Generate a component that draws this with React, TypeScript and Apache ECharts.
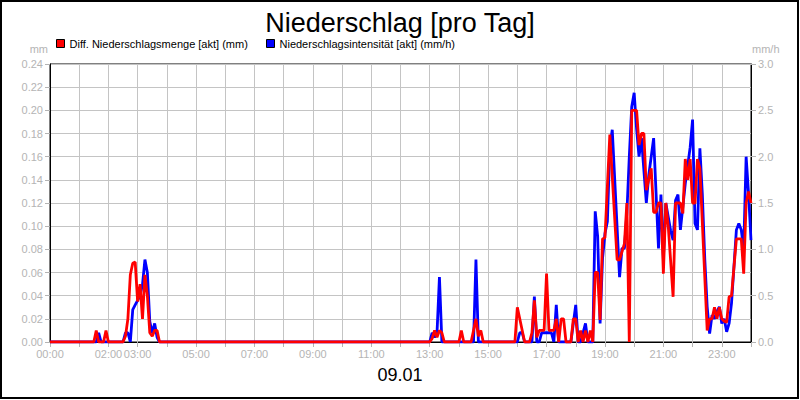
import React, { useEffect, useRef } from "react";
import * as echarts from "echarts";

const chartTitle = "Niederschlag [pro Tag]";
const dateLabel = "09.01";
const redName = "Diff. Niederschlagsmenge [akt] (mm)";
const blueName = "Niederschlagsintensität [akt] (mm/h)";
const leftUnit = "mm";
const rightUnit = "mm/h";

const xTickLabels = ["00:00", "02:00", "03:00", "05:00", "07:00", "09:00", "11:00", "13:00", "15:00", "17:00", "19:00", "21:00", "23:00"];

// Diff. Niederschlagsmenge (mm)
const redTimes = [
  "00:00", "01:30", "01:35", "01:40", "01:50", "01:55", "02:00",
  "02:30", "02:35", "02:40", "02:45", "02:50", "02:55", "03:00", "03:05", "03:10", "03:15", "03:20", "03:25", "03:30", "03:35", "03:40", "03:45",
  "13:00", "13:05", "13:10", "13:15", "13:20", "13:25", "13:30",
  "14:00", "14:05", "14:10",
  "14:25", "14:30", "14:35", "14:40", "14:45", "14:50",
  "15:55", "16:00", "16:15",
  "16:25", "16:30", "16:35", "16:40", "16:45", "16:50", "16:55", "17:00", "17:05", "17:10", "17:15", "17:20", "17:25", "17:30", "17:35", "17:40",
  "17:50", "17:55", "18:00", "18:05", "18:10", "18:15", "18:20", "18:25", "18:30", "18:35",
  "18:40", "18:45", "18:50", "18:55", "19:00", "19:10", "19:25", "19:30", "19:40", "19:45", "19:50", "19:55", "20:05",
  "20:10", "20:15", "20:20", "20:25", "20:35", "20:40", "20:45", "20:50", "20:55", "21:00", "21:05", "21:10", "21:20", "21:25", "21:30", "21:35", "21:40",
  "21:45", "21:50", "21:55", "22:00", "22:05", "22:10", "22:15",
  "22:30", "22:35", "22:40", "22:45", "22:50", "22:55", "23:00", "23:05", "23:10", "23:15", "23:20", "23:30", "23:40", "23:45", "23:50", "23:55", "24:00",
];
const redValues = [
  0, 0, 0.01, 0, 0, 0.01, 0,
  0, 0.005, 0.02, 0.058, 0.068, 0.069, 0.035, 0.05, 0.02, 0.058, 0.04, 0.008, 0.005, 0.01, 0.01, 0,
  0, 0.003, 0.01, 0.004, 0.01, 0.008, 0,
  0, 0.01, 0,
  0, 0.01, 0.02, 0.005, 0.01, 0,
  0, 0.03, 0,
  0, 0.008, 0.036, 0.004, 0.01, 0.01, 0.01, 0.059, 0.01, 0.01, 0.01, 0.02, 0, 0.02, 0.02, 0,
  0, 0.02, 0.02, 0, 0.01, 0, 0.01, 0, 0.01, 0,
  0.06, 0.06, 0.019, 0.089, 0.09, 0.179, 0.071, 0.071, 0.085, 0.12, 0, 0.2, 0.2,
  0.17, 0.18, 0.18, 0.131, 0.15, 0.112, 0.112, 0.12, 0.12, 0.059, 0.12, 0.1, 0.039, 0.12, 0.12, 0.12, 0.111,
  0.158, 0.14, 0.158, 0.12, 0.12, 0.158, 0.15,
  0.01, 0.02, 0.02, 0.03, 0.02, 0.03, 0.02, 0.018, 0.017, 0.039, 0.04, 0.089, 0.089, 0.059, 0.12, 0.13, 0.12,
];

// Niederschlagsintensität (mm/h)
const blueTimes = [
  "00:00", "01:35", "01:40", "01:45",
  "02:30", "02:35", "02:40", "02:45", "02:50", "02:55", "03:00", "03:05", "03:10", "03:15", "03:20", "03:25", "03:30", "03:35", "03:40", "03:45",
  "13:00", "13:05", "13:10", "13:15", "13:20", "13:25",
  "14:30", "14:35", "14:40",
  "16:00", "16:05", "16:10", "16:15",
  "16:30", "16:35", "16:40", "16:45", "16:50", "16:55", "17:00", "17:05", "17:10", "17:15", "17:20", "17:25",
  "17:50", "17:55", "18:00", "18:05", "18:10", "18:15", "18:20", "18:25", "18:35",
  "18:40", "18:45", "18:50", "18:55", "19:00", "19:05", "19:10", "19:15", "19:30", "19:35", "19:40", "19:45", "19:50", "19:55", "20:00", "20:05",
  "20:10", "20:15", "20:25", "20:30", "20:40", "20:50", "20:55", "21:00", "21:05", "21:15", "21:20", "21:25", "21:30", "21:35", "21:45", "21:55", "22:00",
  "22:05", "22:10", "22:15", "22:20", "22:25", "22:30", "22:35", "22:40", "22:45", "22:50", "22:55", "23:00", "23:05", "23:10", "23:15", "23:20",
  "23:30", "23:35", "23:40", "23:45", "23:50", "23:55", "24:00",
];
const blueValues = [
  0, 0, 0.1, 0,
  0, 0.1, 0.1, 0, 0.35, 0.4, 0.45, 0.5, 0.62, 0.89, 0.75, 0.22, 0.1, 0.2, 0.05, 0,
  0, 0.1, 0.05, 0.1, 0.7, 0,
  0, 0.89, 0,
  0, 0.1, 0.1, 0,
  0, 0.49, 0, 0, 0.1, 0.1, 0.1, 0.1, 0.1, 0, 0.4, 0,
  0, 0.2, 0.4, 0, 0, 0.1, 0.2, 0, 0,
  1.41, 1.14, 0.2, 0.9, 1.17, 1.3, 2.1, 2.29, 0.7, 1.01, 1.01, 1.39, 2.0, 2.54, 2.69, 2.3,
  2.0, 2.2, 1.5, 1.8, 2.2, 1.01, 1.59, 0.9, 1.5, 1.2, 1.1, 1.53, 1.59, 1.21, 1.71, 2.1, 2.4,
  1.28, 1.21, 2.09, 1.6, 0.9, 0.38, 0.09, 0.29, 0.25, 0.33, 0.38, 0.2, 0.25, 0.11, 0.2, 0.42,
  1.21, 1.28, 1.21, 1.0, 2.0, 1.6, 1.1,
];

const toMin = (t: string) => {
  const [h, m] = t.split(":").map(Number);
  return h * 60 + m;
};
const pad = (n: number) => (n < 10 ? "0" + n : "" + n);

const FONT = "'Liberation Sans', Arial, sans-serif";
const GRAY = "#b4b4b4";
const GRID = "#c4c4c4";

export default function App() {
  const ref = useRef<HTMLDivElement>(null);
  useEffect(() => {
    document.body.style.margin = "0";
    const chart = echarts.init(ref.current!, undefined, { renderer: "svg" });
    chart.setOption({
      animation: false,
      backgroundColor: "#fff",
      textStyle: { fontFamily: FONT },
      title: {
        text: chartTitle,
        left: "center",
        top: 4,
        textStyle: { fontSize: 27, fontWeight: "normal", color: "#000", fontFamily: FONT },
      },
      legend: [
        {
          data: [redName], left: 56, top: 38, padding: 0, icon: "rect", itemWidth: 8, itemHeight: 8,
          itemStyle: { borderColor: "#000", borderWidth: 1 },
          textStyle: { fontSize: 11, color: "#000", fontFamily: FONT },
        },
        {
          data: [blueName], left: 266, top: 38, padding: 0, icon: "rect", itemWidth: 8, itemHeight: 8,
          itemStyle: { borderColor: "#000", borderWidth: 1 },
          textStyle: { fontSize: 11, color: "#000", fontFamily: FONT },
        },
      ],
      grid: { left: 50, right: 49, top: 64, bottom: 58, show: true, borderColor: "#000", borderWidth: 1, backgroundColor: "transparent" },
      xAxis: {
        type: "value", min: 0, max: 1440, interval: 60,
        axisLine: { lineStyle: { color: "#000", width: 1 } },
        axisTick: { show: true, length: 5, lineStyle: { color: GRAY } },
        splitLine: { show: true, lineStyle: { color: GRID, width: 1 } },
        axisLabel: {
          color: GRAY, fontSize: 11, fontFamily: FONT, margin: 6,
          formatter: (v: number) => {
            const lab = pad(Math.round(v / 60)) + ":00";
            return xTickLabels.includes(lab) ? lab : "";
          },
        },
      },
      yAxis: [
        {
          type: "value", min: 0, max: 0.24, interval: 0.02, position: "left",
          axisLine: { show: true, lineStyle: { color: "#000", width: 1 } },
          axisTick: { show: true, length: 5, lineStyle: { color: GRAY } },
          splitLine: { show: true, lineStyle: { color: GRID, width: 1 } },
          axisLabel: { color: GRAY, fontSize: 11, fontFamily: FONT, margin: 7, formatter: (v: number) => v.toFixed(2) },
        },
        {
          type: "value", min: 0, max: 3, interval: 0.5, position: "right",
          axisLine: { show: true, lineStyle: { color: "#000", width: 1 } },
          axisTick: { show: true, length: 5, lineStyle: { color: GRAY } },
          splitLine: { show: false },
          axisLabel: { color: GRAY, fontSize: 11, fontFamily: FONT, margin: 7, formatter: (v: number) => v.toFixed(1) },
        },
      ],
      series: [
        {
          name: blueName, type: "line", yAxisIndex: 1, showSymbol: false,
          data: blueTimes.map((t, i) => [toMin(t), blueValues[i]]),
          lineStyle: { color: "#0000ff", width: 2.8 }, itemStyle: { color: "#0000ff" },
        },
        {
          name: redName, type: "line", yAxisIndex: 0, showSymbol: false,
          data: redTimes.map((t, i) => [toMin(t), redValues[i]]),
          lineStyle: { color: "#ff0000", width: 2.8 }, itemStyle: { color: "#ff0000" },
        },
      ],
      graphic: [
        { type: "text", x: 48, y: 49, style: { text: leftUnit, fill: GRAY, font: `11px ${FONT}`, textAlign: "right", textVerticalAlign: "middle" } },
        { type: "text", x: 752, y: 49, style: { text: rightUnit, fill: GRAY, font: `11px ${FONT}`, textAlign: "left", textVerticalAlign: "middle" } },
        { type: "text", x: 400, y: 375, style: { text: dateLabel, fill: "#000", font: `18px ${FONT}`, textAlign: "center", textVerticalAlign: "middle" } },
        { type: "rect", x: 1, y: 1, shape: { width: 797, height: 397 }, style: { fill: "none", stroke: "#000", lineWidth: 2 }, silent: true },
      ],
    });
    return () => chart.dispose();
  }, []);
  return <div ref={ref} style={{ width: 800, height: 400, position: "absolute", left: 0, top: 0 }} />;
}
